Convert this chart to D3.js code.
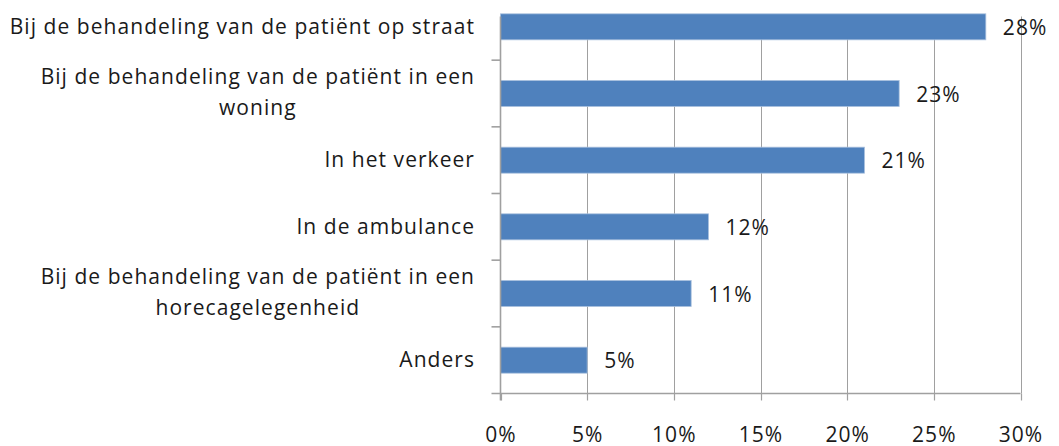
<!DOCTYPE html>
<html>
<head>
<meta charset="utf-8">
<script src="https://cdn.jsdelivr.net/npm/d3@7"></script>
<style>
  body { margin: 0; background: #fff; }
  text { font-family: "Open Sans", "Liberation Sans", sans-serif; fill: #1a1a1a; letter-spacing: 1.05px; }
</style>
</head>
<body>
<svg id="chart" width="1059" height="446"></svg>
<script>
const categories = [
  ["Bij de behandeling van de patiënt op straat"],
  ["Bij de behandeling van de patiënt in een", "woning"],
  ["In het verkeer"],
  ["In de ambulance"],
  ["Bij de behandeling van de patiënt in een", "horecagelegenheid"],
  ["Anders"]
];
const values = [28, 23, 21, 12, 11, 5];
const xTicks = [0, 5, 10, 15, 20, 25, 30];

const svg = d3.select("#chart");
const plotLeft = 500.5, plotRight = 1020.5, bandTop = -6.5, plotBottom = 393.5, plotTop = 16.5;
const fontSize = 21;

const x = d3.scaleLinear().domain([0, 30]).range([plotLeft, plotRight]);
const y = d3.scaleBand().domain(d3.range(categories.length)).range([bandTop, plotBottom]).paddingInner(0.61).paddingOuter(0.305);

// gridlines
svg.append("g").selectAll("line")
  .data(xTicks.slice(1))
  .join("line")
  .attr("x1", d => Math.round(x(d)) + 0.5)
  .attr("x2", d => Math.round(x(d)) + 0.5)
  .attr("y1", plotTop)
  .attr("y2", plotBottom)
  .attr("stroke", "#a0a0a0")
  .attr("stroke-width", 1);

// bars
svg.append("g").selectAll("rect")
  .data(values)
  .join("rect")
  .attr("x", plotLeft)
  .attr("y", (d, i) => y(i))
  .attr("width", d => x(d) - plotLeft)
  .attr("height", y.bandwidth())
  .attr("fill", "#4f81bd")
  .attr("stroke", "#a9c0de")
  .attr("stroke-width", 0.8);

// axes
svg.append("line")
  .attr("x1", plotLeft).attr("x2", plotLeft)
  .attr("y1", plotTop).attr("y2", plotBottom + 7)
  .attr("stroke", "#a0a0a0").attr("stroke-width", 1.6);
svg.append("line")
  .attr("x1", plotLeft - 9).attr("x2", plotRight)
  .attr("y1", plotBottom).attr("y2", plotBottom)
  .attr("stroke", "#a0a0a0").attr("stroke-width", 1.6);

// y ticks (between categories)
svg.append("g").selectAll("line")
  .data(d3.range(1, categories.length))
  .join("line")
  .attr("x1", plotLeft - 9).attr("x2", plotLeft)
  .attr("y1", i => y(i) - y.step() * y.paddingInner() / 2)
  .attr("y2", i => y(i) - y.step() * y.paddingInner() / 2)
  .attr("stroke", "#a0a0a0").attr("stroke-width", 1.6);

// x ticks
svg.append("g").selectAll("line")
  .data(xTicks)
  .join("line")
  .attr("x1", d => Math.round(x(d)) + 0.5)
  .attr("x2", d => Math.round(x(d)) + 0.5)
  .attr("y1", plotBottom).attr("y2", plotBottom + 7)
  .attr("stroke", "#a0a0a0").attr("stroke-width", 1.2);

// x tick labels
svg.append("g").selectAll("text")
  .data(xTicks)
  .join("text")
  .attr("x", d => x(d) + 0.5)
  .attr("y", 442)
  .attr("text-anchor", "middle")
  .attr("font-size", fontSize)
  .text(d => d + "%");

// category labels, centred block, right aligned to the axis
const labelGroup = svg.append("g");
categories.forEach((lines, i) => {
  const cy = y(i) + y.bandwidth() / 2;
  const lh = 31;
  const t = labelGroup.append("text")
    .attr("font-size", fontSize)
    .attr("text-anchor", "middle");
  lines.forEach((ln, j) => {
    t.append("tspan")
      .attr("x", 0)
      .attr("y", cy + (j - (lines.length - 1) / 2) * lh + 7 - (lines.length - 1) * 1.5)
      .text(ln);
  });
  const w = t.node().getBBox().width;
  t.attr("transform", `translate(${475 - w / 2},0)`);
});

// value labels
svg.append("g").selectAll("text")
  .data(values)
  .join("text")
  .attr("x", d => x(d) + 17)
  .attr("y", (d, i) => y(i) + y.bandwidth() / 2 + 8)
  .attr("font-size", fontSize)
  .text(d => d + "%");
</script>
</body>
</html>
